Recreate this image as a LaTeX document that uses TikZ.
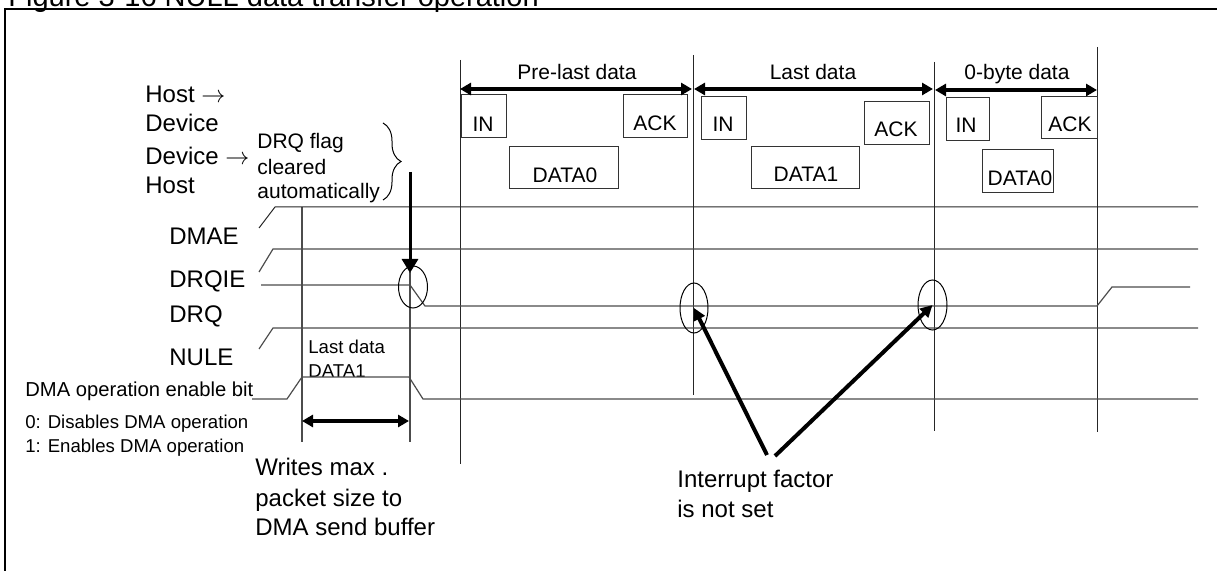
\documentclass[tikz,border=0pt]{standalone}
\usepackage{fontspec}
\setmainfont{Liberation Sans}
\usetikzlibrary{arrows.meta,decorations.pathreplacing,shapes.geometric}
\begin{document}
\begin{tikzpicture}[x=0.5pt,y=-0.5pt,
  txt/.style={inner sep=0pt, anchor=base west},
  big/.style={txt, font=\fontsize{12}{14}\selectfont},
  mid/.style={txt, font=\fontsize{10.5}{12}\selectfont},
  sml/.style={txt, font=\fontsize{9.3}{11}\selectfont},
  boxtxt/.style={inner sep=0pt, anchor=base, font=\fontsize{10.5}{12}\selectfont},
  pkt/.style={draw=black!80, line width=0.5pt},
  sig/.style={draw=black!70, line width=0.6pt},
  grid/.style={draw=black!85, line width=0.5pt},
  oval/.style={draw, ellipse, inner sep=0pt, line width=0.5pt},
  span/.style={line width=1.7pt, {Triangle[length=5.5pt,width=6pt]}-{Triangle[length=5.5pt,width=6pt]}},
  pointer/.style={line width=2pt, -{Triangle[length=6pt,width=6pt]}}
]
\useasboundingbox (0,0) rectangle (1217,571);
\clip (0,0) rectangle (1217,571);

% title (cut at top) and frame
\node[txt, font=\fontsize{14.5}{16}\selectfont] (title) at (8,7) {Figure 3-16 NULL data transfer operation};
\draw[line width=1pt] (5,580) -- (5,9) -- (1230,9);

% left labels
\node[big] (h1) at (145,103) {Host \ensuremath{\rightarrow}};
\node[big] (h2) at (145,132) {Device};
\node[big] (h3) at (145,165) {Device \ensuremath{\rightarrow}};
\node[big] (h4) at (145,194) {Host};

\node[mid] (f1) at (257,149) {DRQ flag};
\node[mid] (f2) at (257,175) {cleared};
\node[mid] (f3) at (257,199) {automatically};
\draw[line width=0.5pt, decorate, decoration={brace, amplitude=9pt}] (383,123) -- (383,200);

\node[big] (lDMAE) at (169,245) {DMAE};
\node[big] (lDRQIE) at (169,288) {DRQIE};
\node[big] (lDRQ) at (169,323) {DRQ};
\node[big] (lNULE) at (169,366) {NULE};

\node[sml] (ld1) at (308,354) {Last data};
\node[sml] (ld2) at (308,378) {DATA1};

\node[txt, font=\fontsize{10.1}{12}\selectfont] (dmab) at (25,397) {DMA operation enable bit};
\node[sml] (d0) at (25,429) {0: Disables DMA operation};
\node[sml] (d1) at (25,453) {1: Enables DMA operation};

\node[big] (w1) at (255,476) {Writes max .};
\node[big] (w2) at (255,507) {packet size to};
\node[big] (w3) at (255,536) {DMA send buffer};

\node[big] (i1) at (677,488) {Interrupt factor};
\node[big] (i2) at (677,518) {is not set};

% vertical time lines
\draw[sig] (302,207) -- (302,442);
\draw[sig] (410,272) -- (410,442);
\draw[grid] (460,60) -- (460,464);
\draw[grid] (693,55) -- (693,395);
\draw[grid] (934,62) -- (934,431);
\draw[grid] (1097,47) -- (1097,432);

% signals
\draw[grid] (259,228) -- (275,207) -- (1198,207);
\draw[sig] (259,272) -- (273,249) -- (1198,249);
\draw[sig] (261,285) -- (410,285) -- (425,306) -- (1097,306) -- (1112,287) -- (1190,287);
\draw[sig] (259,349) -- (273,328) -- (1198,328);
\draw[sig] (252,399) -- (287,399) -- (302,377) -- (409,377) -- (423,399) -- (1198,399);

% packets
\draw[pkt] (461,95) rectangle (506,138);
\draw[pkt] (623,95) rectangle (687,138);
\draw[pkt] (509,147) rectangle (618,189);
\draw[pkt] (701,97) rectangle (746,140);
\draw[pkt] (751,147) rectangle (859,189);
\draw[pkt] (864,102) rectangle (929,145);
\draw[pkt] (946,98) rectangle (989,141);
\draw[pkt] (1041,97) rectangle (1097,139);
\draw[pkt] (982,150) rectangle (1053,193);
\node[boxtxt] (in1) at (483,132) {IN};
\node[boxtxt] (ack1) at (655,131) {ACK};
\node[boxtxt] (dat0) at (565,183) {DATA0};
\node[boxtxt] (in2) at (723,132) {IN};
\node[boxtxt] (dat1) at (806,182) {DATA1};
\node[boxtxt] (ack2) at (896,137) {ACK};
\node[boxtxt] (in3) at (966,133) {IN};
\node[boxtxt] (ack3) at (1070,132) {ACK};
\node[boxtxt] (dat0b) at (1020,186) {DATA0};

% phase spans
\node[mid, anchor=base] (p1) at (577,80) {Pre-last data};
\node[mid, anchor=base] (p2) at (813,80) {Last data};
\node[mid, anchor=base] (p3) at (1017,80) {0-byte data};
\coordinate (s1a) at (460,89); \coordinate (s1b) at (692,89);
\coordinate (s2a) at (694,89); \coordinate (s2b) at (933,89);
\coordinate (s3a) at (935,90); \coordinate (s3b) at (1097,90);
\draw[span] (s1a) -- (s1b);
\draw[span] (s2a) -- (s2b);
\draw[span] (s3a) -- (s3b);

% write span
\coordinate (wa) at (302,421); \coordinate (wb) at (409,421);
\draw[span, line width=2pt] (wa) -- (wb);

% ovals
\node[oval, minimum width=14.5pt, minimum height=21pt] (e1) at (413,287) {};
\node[oval, minimum width=14pt, minimum height=25pt] (e2) at (694,308) {};
\node[oval, minimum width=14.5pt, minimum height=25pt] (e3) at (932.5,305) {};

% pointers
\coordinate (dtop) at (410,172); \coordinate (dtip) at (410,273);
\draw[line width=1.5pt, -{Triangle[length=7pt,width=8pt]}] (dtop) -- (dtip);
\coordinate (ia) at (767,455); \coordinate (ib) at (775,456);
\draw[pointer] (ia) -- (e2.center);
\draw[pointer] (ib) -- (e3.center);
\end{tikzpicture}
\end{document}
